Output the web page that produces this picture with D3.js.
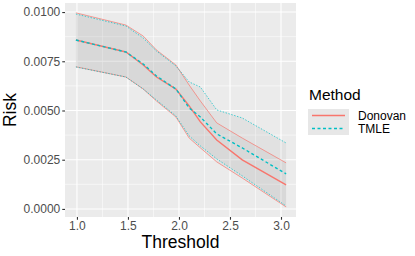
<!DOCTYPE html>
<html>
<head>
<meta charset="utf-8">
<script src="https://cdn.jsdelivr.net/npm/d3@7"></script>
<style>
  body { margin: 0; background: #fff; }
  text { font-family: "Liberation Sans", Arial, sans-serif; }
</style>
</head>
<body>
<div id="canvas"></div>
<script>
const W = 415, H = 256;

// data
const thresholds = [0.99, 1.48, 1.65, 1.78, 1.97, 2.1, 2.21, 2.37, 2.62, 3.05];
const donovanEst   = [0.00858, 0.00797, 0.00731, 0.00670, 0.00609, 0.00523, 0.00442, 0.00350, 0.00249, 0.00122];
const donovanUpper = [0.00996, 0.00934, 0.00878, 0.00807, 0.00731, 0.00629, 0.00548, 0.00437, 0.00360, 0.00234];
const donovanLower = [0.00722, 0.00670, 0.00609, 0.00548, 0.00467, 0.00360, 0.00310, 0.00239, 0.00157, 0.00010];
const tmleEst   = [0.00858, 0.00797, 0.00736, 0.00675, 0.00609, 0.00513, 0.00467, 0.00381, 0.00310, 0.00178];
const tmleUpper = [0.00990, 0.00929, 0.00868, 0.00802, 0.00726, 0.00645, 0.00619, 0.00503, 0.00462, 0.00335];
const tmleLower = [0.00721, 0.00670, 0.00609, 0.00553, 0.00472, 0.00371, 0.00320, 0.00254, 0.00168, 0.00015];

const methods = ["Donovan", "TMLE"];
const colors = ["#F8766D", "#00BFC4"];
const xTicks = [1.0, 1.5, 2.0, 2.5, 3.0];
const yTicks = [0, 0.0025, 0.005, 0.0075, 0.01];

const series = [
  { name: methods[0], color: colors[0], est: donovanEst, lo: donovanLower, hi: donovanUpper, dashEst: null, dashCI: null },
  { name: methods[1], color: colors[1], est: tmleEst, lo: tmleLower, hi: tmleUpper, dashEst: "3,2.5", dashCI: "1.5,1.5" }
];

const panel = { left: 65, right: 296, top: 3, bottom: 217 };

const x = d3.scaleLinear().domain([0.883, 3.147]).range([panel.left, panel.right]);
const y = d3.scaleLinear().domain([-0.00041, 0.01046]).range([panel.bottom, panel.top]);

const svg = d3.select("#canvas").append("svg")
  .attr("width", W).attr("height", H);

// panel background
svg.append("rect")
  .attr("x", panel.left).attr("y", panel.top)
  .attr("width", panel.right - panel.left).attr("height", panel.bottom - panel.top)
  .attr("fill", "#EBEBEB");

// minor grid
const xMinor = [1.25, 1.75, 2.25, 2.75];
const yMinor = [0.00125, 0.00375, 0.00625, 0.00875];
svg.append("g").selectAll("line").data(xMinor).enter().append("line")
  .attr("x1", d => x(d)).attr("x2", d => x(d))
  .attr("y1", panel.top).attr("y2", panel.bottom)
  .attr("stroke", "#fff").attr("stroke-width", 0.55);
svg.append("g").selectAll("line").data(yMinor).enter().append("line")
  .attr("y1", d => y(d)).attr("y2", d => y(d))
  .attr("x1", panel.left).attr("x2", panel.right)
  .attr("stroke", "#fff").attr("stroke-width", 0.55);

// major grid
svg.append("g").selectAll("line").data(xTicks).enter().append("line")
  .attr("x1", d => x(d)).attr("x2", d => x(d))
  .attr("y1", panel.top).attr("y2", panel.bottom)
  .attr("stroke", "#fff").attr("stroke-width", 1.1);
svg.append("g").selectAll("line").data(yTicks).enter().append("line")
  .attr("y1", d => y(d)).attr("y2", d => y(d))
  .attr("x1", panel.left).attr("x2", panel.right)
  .attr("stroke", "#fff").attr("stroke-width", 1.1);

// ribbons
const area = d3.area()
  .x((d, i) => x(thresholds[i]))
  .y0(d => y(d[0]))
  .y1(d => y(d[1]));

series.forEach(s => {
  svg.append("path")
    .datum(s.lo.map((v, i) => [v, s.hi[i]]))
    .attr("d", area)
    .attr("fill", "#999999")
    .attr("fill-opacity", 0.12);
});

// lines
const line = d3.line().x((d, i) => x(thresholds[i])).y(d => y(d));

series.forEach(s => {
  [s.lo, s.hi].forEach(arr => {
    svg.append("path")
      .datum(arr)
      .attr("d", line)
      .attr("fill", "none")
      .attr("stroke", s.color)
      .attr("stroke-width", 0.7)
      .attr("stroke-dasharray", s.dashCI);
  });
  svg.append("path")
    .datum(s.est)
    .attr("d", line)
    .attr("fill", "none")
    .attr("stroke", s.color)
    .attr("stroke-width", 1.4)
    .attr("stroke-dasharray", s.dashEst);
});

// axes
const xAxis = d3.axisBottom(x).tickValues(xTicks).tickFormat(d3.format(".1f"))
  .tickSize(2.75).tickPadding(2);
const yAxis = d3.axisLeft(y).tickValues(yTicks).tickFormat(d3.format(".4f"))
  .tickSize(2.75).tickPadding(2);

const gx = svg.append("g").attr("transform", `translate(0,${panel.bottom})`).call(xAxis);
const gy = svg.append("g").attr("transform", `translate(${panel.left},0)`).call(yAxis);
[gx, gy].forEach(g => {
  g.select(".domain").remove();
  g.selectAll(".tick line").attr("stroke", "#333333").attr("stroke-width", 1.1);
  g.selectAll(".tick text").attr("fill", "#4D4D4D").style("font-size", "12px")
    .style("font-family", "Liberation Sans, Arial, sans-serif");
});

// axis titles
svg.append("text")
  .attr("x", (panel.left + panel.right) / 2).attr("y", 248)
  .attr("text-anchor", "middle")
  .style("font-size", "17.5px")
  .text("Threshold");

svg.append("text")
  .attr("transform", `translate(16,${(panel.top + panel.bottom) / 2}) rotate(-90)`)
  .attr("text-anchor", "middle")
  .style("font-size", "17.5px")
  .text("Risk");

// legend
const leg = svg.append("g").attr("transform", "translate(308,0)");
leg.append("text").attr("x", 1).attr("y", 100)
  .style("font-size", "15.5px").text("Method");

const keyY = d3.scaleBand().domain(methods).range([109, 135]);
const keys = leg.selectAll(".key").data(series).enter().append("g")
  .attr("transform", d => `translate(0,${keyY(d.name)})`);
keys.append("rect")
  .attr("width", 41).attr("height", keyY.bandwidth())
  .attr("fill", "#F2F2F2");
keys.append("rect")
  .attr("width", 41).attr("height", keyY.bandwidth())
  .attr("fill", "#999999").attr("fill-opacity", 0.12);
keys.append("line")
  .attr("x1", 4).attr("x2", 37)
  .attr("y1", keyY.bandwidth() / 2).attr("y2", keyY.bandwidth() / 2)
  .attr("stroke", d => d.color)
  .attr("stroke-width", 1.4)
  .attr("stroke-dasharray", d => d.dashEst);
keys.append("text")
  .attr("x", 50).attr("y", keyY.bandwidth() / 2 + 4.5)
  .style("font-size", "12px")
  .text(d => d.name);
</script>
</body>
</html>
